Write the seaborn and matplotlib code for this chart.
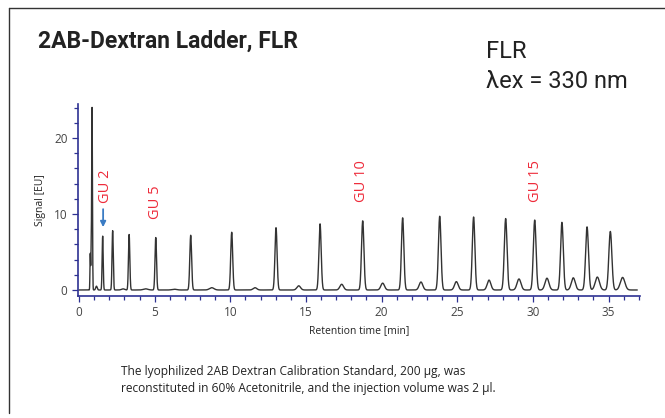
import numpy as np
import pandas as pd
import matplotlib
matplotlib.use("Agg")
import matplotlib.pyplot as plt
import seaborn as sns
from matplotlib.ticker import MultipleLocator

# Picos principales (tiempo de retención [min], altura [EU], sigma [min])
tiempos_pico = [0.74, 0.80, 0.86, 1.56, 2.22, 3.31, 5.07, 7.38, 10.09, 13.02,
                15.93, 18.75, 21.39, 23.84, 26.08, 28.20, 30.12, 31.92, 33.58, 35.12]
alturas_pico = [4.8, 5.0, 24.0, 7.1, 7.8, 7.3, 6.9, 7.2, 7.6, 8.2,
                8.7, 9.1, 9.5, 9.7, 9.6, 9.4, 9.2, 8.9, 8.3, 7.7]
anchos_pico = [0.02, 0.02, 0.025, 0.035, 0.04, 0.045, 0.05, 0.06, 0.065, 0.07,
               0.075, 0.08, 0.08, 0.085, 0.085, 0.09, 0.09, 0.09, 0.095, 0.1]

# Picos menores entre los principales
tiempos_menor = [1.15, 2.9, 4.4, 6.3, 8.77, 11.63, 14.52, 17.36, 20.07, 22.60,
                 24.94, 27.10, 29.08, 30.93, 32.67, 34.26, 35.93]
alturas_menor = [0.5, 0.15, 0.15, 0.1, 0.3, 0.3, 0.55, 0.75, 0.9, 1.05,
                 1.1, 1.3, 1.45, 1.55, 1.6, 1.7, 1.65]
anchos_menor = [0.05, 0.1, 0.15, 0.15, 0.15, 0.12, 0.12, 0.12, 0.12, 0.12,
                0.12, 0.12, 0.13, 0.13, 0.13, 0.14, 0.15]

# Etiquetas GU: texto, tiempo, señal
etiquetas_gu = ["GU 2", "GU 5", "GU 10", "GU 15"]
x_gu = [1.72, 5.02, 18.7, 30.14]
y_gu = [13.7, 11.6, 14.3, 14.3]

ROJO = "#ee2b3a"
AZUL_EJE = "#2e3192"

# Cromatograma como suma de picos gaussianos
t = np.linspace(0, 36.9, 6000)
senal = np.zeros_like(t)
for tp, h, s in zip(tiempos_pico + tiempos_menor,
                    alturas_pico + alturas_menor,
                    anchos_pico + anchos_menor):
    senal += h * np.exp(-0.5 * ((t - tp) / s) ** 2)
df = pd.DataFrame({"tiempo": t, "senal": senal})

sns.set_style("white")
plt.rcParams["font.family"] = ["Open Sans", "DejaVu Sans"]

fig = plt.figure(figsize=(6.65, 4.18), dpi=100)
ax = fig.add_axes([0.1173, 0.2919, 0.8451, 0.4593])

sns.lineplot(data=df, x="tiempo", y="senal", ax=ax, color="#333333",
             lw=1.0, estimator=None, sort=False)

ax.set_xlim(-0.07, 37.08)
ax.set_ylim(-0.79, 24.47)
ax.xaxis.set_major_locator(MultipleLocator(5))
ax.xaxis.set_minor_locator(MultipleLocator(1))
ax.yaxis.set_major_locator(MultipleLocator(10))
ax.yaxis.set_minor_locator(MultipleLocator(2))
for lado in ["top", "right"]:
    ax.spines[lado].set_visible(False)
for lado in ["left", "bottom"]:
    ax.spines[lado].set_color(AZUL_EJE)
    ax.spines[lado].set_linewidth(1.2)
ax.tick_params(which="both", direction="out", color=AZUL_EJE,
               labelsize=8.5, labelcolor="#444444", width=0.9)
ax.tick_params(which="major", length=4, bottom=True, left=True)
ax.tick_params(which="minor", length=3, bottom=True, left=True)
ax.set_xlabel("Retention time [min]", fontsize=7.5, color="#222222", labelpad=4)
ax.set_ylabel("Signal [EU]", fontsize=7.5, color="#222222", labelpad=6)

for txt, xg, yg in zip(etiquetas_gu, x_gu, y_gu):
    ax.text(xg, yg, txt, rotation=90, color=ROJO, fontsize=10.5,
            ha="center", va="center")
ax.annotate("", xy=(1.59, 7.9), xytext=(1.59, 11.0),
            arrowprops=dict(arrowstyle="-|>", color="#3b7cc4", lw=1.3,
                            mutation_scale=8))

# Marco y textos de la figura
fig.add_artist(plt.Line2D([9 / 665, 1.0], [1 - 8 / 418, 1 - 8 / 418],
                          color="#333333", lw=1.0))
fig.add_artist(plt.Line2D([9 / 665, 9 / 665], [1 - 8 / 418, 1 - 413 / 418],
                          color="#333333", lw=1.0))
fig.text(38 / 665, 1 - 48 / 418, "2AB-Dextran Ladder, FLR", fontsize=16.5,
         fontweight="bold", color="#222222", family=["Roboto"])
fig.text(486 / 665, 1 - 58 / 418, "FLR", fontsize=17, color="#222222",
         family=["Roboto"])
fig.text(486 / 665, 1 - 88 / 418, "λex = 330 nm", fontsize=17,
         color="#222222", family=["Roboto"])
fig.text(121 / 665, 1 - 392 / 418,
         "The lyophilized 2AB Dextran Calibration Standard, 200 µg, was\n"
         "reconstituted in 60% Acetonitrile, and the injection volume was 2 µl.",
         fontsize=8.6, color="#222222", linespacing=1.4, va="baseline")

fig.savefig("out.png", dpi=100)
